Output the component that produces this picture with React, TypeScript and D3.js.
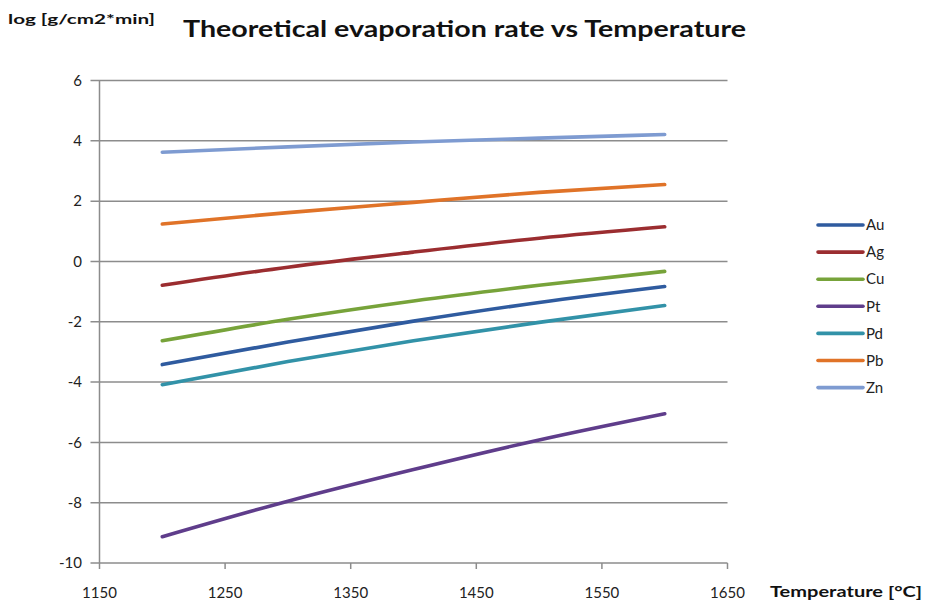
import { useEffect } from "react";
import { scaleLinear, line, curveMonotoneX } from "d3";

// temperatures (°C) where the curves were read
const temps = [1200, 1300, 1400, 1500, 1600];

const metals = ["Au", "Ag", "Cu", "Pt", "Pd", "Pb", "Zn"];

// log [g/cm2*min]
const au = [-3.42, -2.67, -1.98, -1.36, -0.83];
const ag = [-0.79, -0.19, 0.31, 0.77, 1.15];
const cu = [-2.63, -1.92, -1.31, -0.79, -0.33];
const pt = [-9.13, -7.95, -6.9, -5.92, -5.05];
const pd = [-4.09, -3.32, -2.63, -2.02, -1.46];
const pb = [1.24, 1.62, 1.96, 2.29, 2.55];
const zn = [3.62, 3.8, 3.96, 4.09, 4.21];

const xTicks = [1150, 1250, 1350, 1450, 1550, 1650];
const yTicks = [-10, -8, -6, -4, -2, 0, 2, 4, 6];

const seriesValues = [au, ag, cu, pt, pd, pb, zn];
const colors = [
  "#2f5b9f",
  "#9b2d30",
  "#77a33a",
  "#5f3d8b",
  "#3292a8",
  "#e07328",
  "#7e9bd1",
];

const W = 925;
const H = 601;
const font = "Lato, 'Open Sans', sans-serif";

export default function App() {
  useEffect(() => {
    document.body.style.margin = "0";
  }, []);

  const x = scaleLinear().domain([1150, 1650]).range([99.5, 727.5]);
  const y = scaleLinear().domain([-10, 6]).range([563, 80.5]);

  const lineGen = line<number>()
    .x((_d, i) => x(temps[i]))
    .y((d) => y(d))
    .curve(curveMonotoneX);

  return (
    <svg width={W} height={H} style={{ display: "block", background: "#fff" }}>
      {/* title + axis titles */}
      <text
        x={183}
        y={37}
        fontFamily={font}
        fontWeight="bold"
        fontSize={22}
        textLength={563}
        lengthAdjust="spacingAndGlyphs"
        fill="#111"
      >
        Theoretical evaporation rate vs Temperature
      </text>
      <text
        x={8}
        y={24}
        fontFamily={font}
        fontWeight="bold"
        fontSize={14}
        textLength={147}
        lengthAdjust="spacingAndGlyphs"
        fill="#111"
      >
        log [g/cm2*min]
      </text>
      <text
        x={770}
        y={597}
        fontFamily={font}
        fontWeight="bold"
        fontSize={15}
        textLength={152}
        lengthAdjust="spacingAndGlyphs"
        fill="#111"
      >
        Temperature [°C]
      </text>

      {/* gridlines + y ticks */}
      {yTicks.map((t) => (
        <g key={t}>
          <line
            x1={x(1150) - 9}
            x2={x(1650)}
            y1={y(t)}
            y2={y(t)}
            stroke="#8c8c8c"
            strokeWidth={1.5}
          />
          <text
            x={82}
            y={y(t)}
            dy="0.35em"
            textAnchor="end"
            fontFamily={font}
            fontSize={15}
            fill="#222"
          >
            {t}
          </text>
        </g>
      ))}

      {/* y axis */}
      <line
        x1={x(1150)}
        x2={x(1150)}
        y1={y(6)}
        y2={y(-10)}
        stroke="#8c8c8c"
        strokeWidth={1.5}
      />

      {/* x ticks */}
      {xTicks.map((t) => (
        <g key={t}>
          <line
            x1={x(t)}
            x2={x(t)}
            y1={y(-10)}
            y2={y(-10) + 6}
            stroke="#8c8c8c"
            strokeWidth={1.5}
          />
          <text
            x={x(t)}
            y={598}
            textAnchor="middle"
            fontFamily={font}
            fontSize={15}
            fill="#222"
          >
            {t}
          </text>
        </g>
      ))}

      {/* series */}
      {seriesValues.map((vals, i) => (
        <path
          key={metals[i]}
          d={lineGen(vals) || ""}
          fill="none"
          stroke={colors[i]}
          strokeWidth={3.6}
          strokeLinecap="round"
        />
      ))}

      {/* legend */}
      {metals.map((m, i) => {
        const ly = 225 + i * 27.1;
        return (
          <g key={m}>
            <line
              x1={818}
              x2={863}
              y1={ly}
              y2={ly}
              stroke={colors[i]}
              strokeWidth={3.6}
              strokeLinecap="round"
            />
            <text
              x={866}
              y={ly}
              dy="0.35em"
              fontFamily={font}
              fontSize={15}
              fill="#222"
            >
              {m}
            </text>
          </g>
        );
      })}
    </svg>
  );
}
